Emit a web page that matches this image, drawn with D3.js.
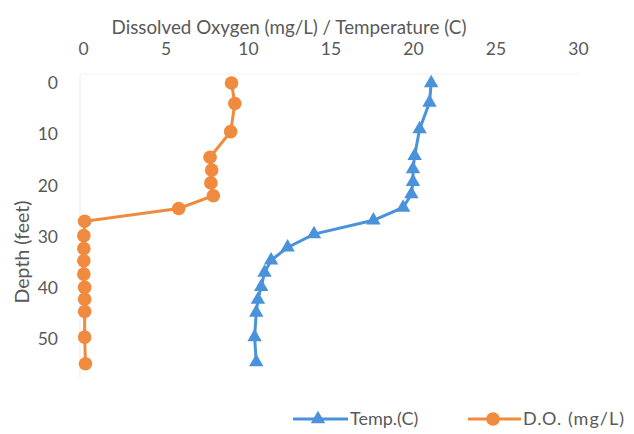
<!DOCTYPE html>
<html>
<head>
<meta charset="utf-8">
<script src="https://cdn.jsdelivr.net/npm/d3@7"></script>
<style>
  body { margin: 0; background: #fff; }
  svg { display: block; }
  text { font-family: Lato, "Open Sans", "Liberation Sans", sans-serif; fill: #595959; }
</style>
</head>
<body>
<svg id="chart" width="634" height="434"></svg>
<script>
// ---- data ----
const depthDO   = [0, 4, 9.5, 14.5, 17, 19.5, 22, 24.5, 27, 29.8, 32.3, 34.7, 37.3, 39.9, 42.2, 44.6, 49.6, 54.8];
const doValues  = [9.0, 9.2, 8.95, 7.7, 7.8, 7.75, 7.9, 5.8, 0.1, 0.05, 0.05, 0.05, 0.05, 0.1, 0.1, 0.1, 0.1, 0.15];
const depthTemp = [0, 3.8, 9, 14.2, 16.8, 19.3, 21.7, 24.3, 26.8, 29.5, 32.1, 34.6, 37, 39.8, 42.3, 44.8, 49.6, 54.5];
const tempValues= [21.1, 21.0, 20.4, 20.1, 20.0, 20.0, 19.9, 19.4, 17.6, 14.0, 12.4, 11.4, 11.0, 10.8, 10.6, 10.5, 10.4, 10.5];
const xTicks = [0, 5, 10, 15, 20, 25, 30];
const yTicks = [0, 10, 20, 30, 40, 50];
const xTitle = "Dissolved Oxygen (mg/L) / Temperature (C)";
const yTitle = "Depth (feet)";
const legendLabels = ["Temp.(C)", "D.O. (mg/L)"];

const blue = "#4a92da";
const orange = "#f08a3e";

const svg = d3.select("#chart");
const x = d3.scaleLinear().domain([0, 30]).range([83, 578]);
const y = d3.scaleLinear().domain([0, 57]).range([83, 375]);

// faint axis lines
svg.append("line").attr("x1", 80).attr("x2", 80).attr("y1", 74).attr("y2", 378)
  .attr("stroke", "#ececec").attr("stroke-width", 1);
svg.append("line").attr("x1", 80).attr("x2", 578).attr("y1", 74).attr("y2", 74)
  .attr("stroke", "#f2f2f2").attr("stroke-width", 1);

// top axis tick labels
const xAxis = d3.axisTop(x).tickValues(xTicks).tickSize(0).tickPadding(0);
const gx = svg.append("g").attr("transform", "translate(0,55)").call(xAxis);
gx.select(".domain").remove();
gx.selectAll("text").attr("font-size", 17.5).style("fill", "#595959")
  .style("font-family", "Lato, 'Open Sans', sans-serif");

// left axis tick labels
const yAxis = d3.axisLeft(y).tickValues(yTicks).tickSize(0).tickPadding(0);
const gy = svg.append("g").attr("transform", "translate(58,0)").call(yAxis);
gy.select(".domain").remove();
gy.selectAll("text").attr("font-size", 17.5).style("fill", "#595959")
  .style("font-family", "Lato, 'Open Sans', sans-serif");

// titles
svg.append("text").attr("x", 289).attr("y", 34).attr("text-anchor", "middle")
  .attr("font-size", 18.8).text(xTitle);
svg.append("text").attr("transform", "translate(29,252) rotate(-90)")
  .attr("text-anchor", "middle").attr("font-size", 19.5).text(yTitle);

// series
const lineGen = d3.line().x(d => x(d[0])).y(d => y(d[1]));
const doData = doValues.map((v, i) => [v, depthDO[i]]);
const tData = tempValues.map((v, i) => [v, depthTemp[i]]);

svg.append("path").datum(doData).attr("d", lineGen)
  .attr("fill", "none").attr("stroke", orange).attr("stroke-width", 3);
svg.append("g").selectAll("circle").data(doData).join("circle")
  .attr("cx", d => x(d[0])).attr("cy", d => y(d[1])).attr("r", 6.8)
  .attr("fill", orange);

svg.append("path").datum(tData).attr("d", lineGen)
  .attr("fill", "none").attr("stroke", blue).attr("stroke-width", 3);
const tri = d3.symbol().type(d3.symbolTriangle).size(90);
svg.append("g").selectAll("path").data(tData).join("path")
  .attr("transform", d => `translate(${x(d[0])},${y(d[1])})`)
  .attr("d", tri).attr("fill", blue);

// legend
const lg = svg.append("g");
lg.append("line").attr("x1", 293).attr("x2", 348).attr("y1", 419).attr("y2", 419)
  .attr("stroke", blue).attr("stroke-width", 3);
lg.append("path").attr("transform", "translate(318,419)").attr("d", tri).attr("fill", blue);
lg.append("text").attr("x", 350).attr("y", 425).attr("font-size", 18).text(legendLabels[0]);
lg.append("line").attr("x1", 468).attr("x2", 521).attr("y1", 419).attr("y2", 419)
  .attr("stroke", orange).attr("stroke-width", 3);
lg.append("circle").attr("cx", 493).attr("cy", 419).attr("r", 6.8).attr("fill", orange);
lg.append("text").attr("x", 523).attr("y", 425).attr("font-size", 18)
  .attr("letter-spacing", 1).text(legendLabels[1]);
</script>
</body>
</html>
